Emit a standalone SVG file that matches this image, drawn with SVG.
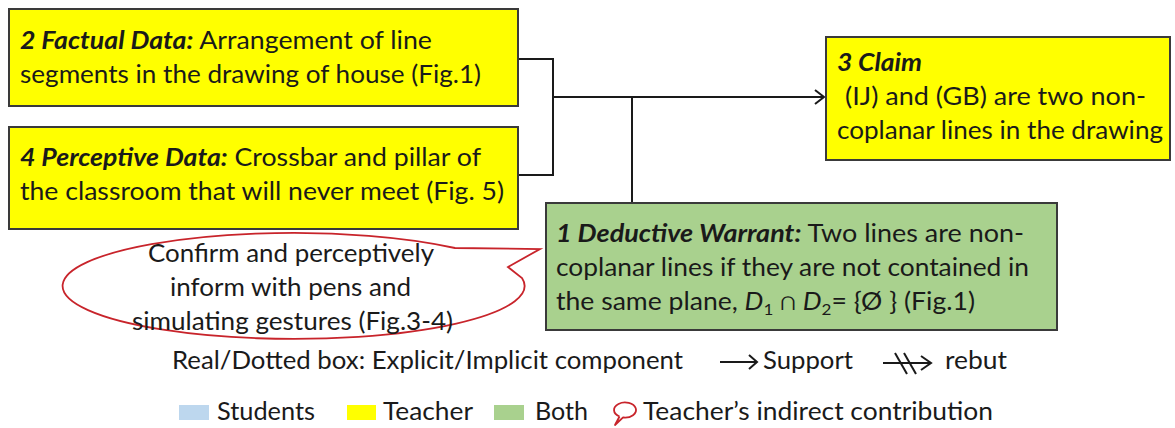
<svg xmlns="http://www.w3.org/2000/svg" width="1175" height="428" viewBox="0 0 1175 428">
<style>
  .box { stroke: #3a3a3a; stroke-width: 2; }
  .yellow { fill: #FFFF00; }
  .green { fill: #A9D18E; }
  .t { font-family: Lato, "Liberation Sans", sans-serif; font-size: 25px; fill: #1a1a1a; }
  .bi { font-weight: bold; font-style: italic; }
  .it { font-style: italic; }
  .conn { stroke: #1a1a1a; stroke-width: 2; fill: none; }
  .red { stroke: #C8242B; stroke-width: 1.8; fill: #ffffff; }
</style>

<g id="connectors">
  <polyline class="conn" points="518,59 553,59 553,175 518,175"/>
  <line class="conn" x1="553" y1="97" x2="824" y2="97"/>
  <polyline class="conn" points="815,90 824,97 815,104"/>
  <line class="conn" x1="632" y1="97" x2="632" y2="203"/>
</g>

<g id="node-factual">
  <rect class="box yellow" x="9" y="9" width="509" height="97"/>
  <text class="t" x="20" y="49" textLength="412" lengthAdjust="spacingAndGlyphs"><tspan class="bi">2 Factual Data:</tspan> Arrangement of line</text>
  <text class="t" x="20" y="83" textLength="461" lengthAdjust="spacingAndGlyphs">segments in the drawing of house (Fig.1)</text>
</g>

<g id="node-perceptive">
  <rect class="box yellow" x="9" y="127" width="509" height="102"/>
  <text class="t" x="20" y="166" textLength="461" lengthAdjust="spacingAndGlyphs"><tspan class="bi">4 Perceptive Data:</tspan> Crossbar and pillar of</text>
  <text class="t" x="20" y="200" textLength="484" lengthAdjust="spacingAndGlyphs">the classroom that will never meet  (Fig. 5)</text>
</g>

<g id="node-claim">
  <rect class="box yellow" x="826" y="37" width="344" height="123"/>
  <text class="t bi" x="837" y="71" textLength="85" lengthAdjust="spacingAndGlyphs">3 Claim</text>
  <text class="t" x="845" y="105" textLength="301" lengthAdjust="spacingAndGlyphs">(IJ) and (GB) are two non-</text>
  <text class="t" x="837" y="139" textLength="326" lengthAdjust="spacingAndGlyphs">coplanar lines in the drawing</text>
</g>

<g id="node-warrant">
  <rect class="box green" x="546" y="203" width="511" height="127"/>
  <text class="t" x="556" y="242" textLength="468" lengthAdjust="spacingAndGlyphs"><tspan class="bi">1 Deductive Warrant:</tspan> Two lines are non-</text>
  <text class="t" x="556" y="276" textLength="473" lengthAdjust="spacingAndGlyphs">coplanar lines if they are not contained in</text>
  <text class="t" x="556" y="310" textLength="419" lengthAdjust="spacingAndGlyphs">the same plane, <tspan class="it">D</tspan><tspan font-size="16" dy="5">1</tspan><tspan dy="-5"> ∩ </tspan><tspan class="it">D</tspan><tspan font-size="16" dy="5">2</tspan><tspan dy="-5">= {Ø } (Fig.1)</tspan></text>
</g>

<g id="node-callout">
  <path class="red" d="M 455 248 L 540 249 L 508 267 L 522 278 A 231 53 0 1 1 455 248 Z"/>
  <text class="t" x="148" y="262" textLength="286" lengthAdjust="spacingAndGlyphs">Confirm and perceptively</text>
  <text class="t" x="170" y="296" textLength="241" lengthAdjust="spacingAndGlyphs">inform with pens and</text>
  <text class="t" x="132" y="330" textLength="321" lengthAdjust="spacingAndGlyphs">simulating gestures (Fig.3-4)</text>
</g>

<g id="legend">
  <text class="t" x="172" y="369" textLength="511" lengthAdjust="spacingAndGlyphs">Real/Dotted box: Explicit/Implicit component</text>
  <line class="conn" x1="720" y1="362" x2="757" y2="362"/>
  <polyline class="conn" points="749,355 757,362 749,369"/>
  <text class="t" x="763" y="369" textLength="90" lengthAdjust="spacingAndGlyphs">Support</text>
  <line class="conn" x1="883" y1="363" x2="931" y2="363"/>
  <polyline class="conn" points="921,356 931,363 921,370"/>
  <line class="conn" x1="895" y1="353" x2="907" y2="374"/>
  <line class="conn" x1="904" y1="353" x2="916" y2="374"/>
  <text class="t" x="945" y="369" textLength="62" lengthAdjust="spacingAndGlyphs">rebut</text>

  <rect x="179" y="405" width="30" height="15" fill="#BDD7EE"/>
  <text class="t" x="217" y="420" textLength="98" lengthAdjust="spacingAndGlyphs">Students</text>
  <rect x="347" y="405" width="29" height="15" fill="#FFFF00"/>
  <text class="t" x="383" y="420" textLength="90" lengthAdjust="spacingAndGlyphs">Teacher</text>
  <rect x="494" y="405" width="30" height="15" fill="#A9D18E"/>
  <text class="t" x="535" y="420" textLength="53" lengthAdjust="spacingAndGlyphs">Both</text>
  <path d="M 619.5 416.5 L 615 425 L 623.1 417.4 A 11 7.5 0 1 0 619.5 416.5" fill="none" stroke="#C8242B" stroke-width="1.8" stroke-linejoin="round"/>
  <text class="t" x="643" y="420" textLength="350" lengthAdjust="spacingAndGlyphs">Teacher’s indirect contribution</text>
</g>
</svg>
